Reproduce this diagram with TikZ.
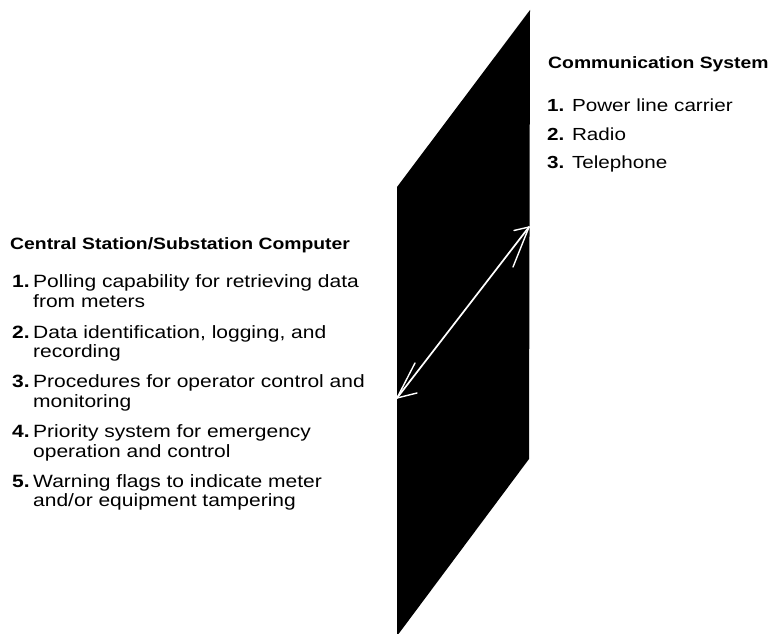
\documentclass[tikz,border=0pt]{standalone}
\usepackage{fontspec}
\setmainfont{Liberation Sans}
\newfontfamily\reffont[FakeStretch=1.18]{Liberation Sans}
\tikzset{
  headtxt/.style={anchor=base west, inner sep=0pt, font=\reffont\bfseries\fontsize{16.4}{19.5}\selectfont},
  numtxt/.style={anchor=base west, inner sep=0pt, font=\reffont\bfseries\fontsize{17.8}{19.5}\selectfont},
  itemtxt/.style={anchor=base west, inner sep=0pt, font=\reffont\fontsize{17.8}{19.5}\selectfont},
  ritemtxt/.style={anchor=base west, inner sep=0pt, font=\reffont\fontsize{17.5}{19.5}\selectfont},
  shaft/.style={white, line width=1.7pt, line cap=round},
  barb/.style={white, line width=1.4pt, line cap=round}
}
\begin{document}
\begin{tikzpicture}[x=1pt,y=-1pt]
\useasboundingbox (0,0) rectangle (769,634);
% panel
\coordinate (p1) at (397,187);
\coordinate (p2) at (530,10);
\coordinate (p3) at (529,459);
\coordinate (p4) at (397,636);
\fill[black] (p1) -- (p2) -- (p3) -- (p4) -- cycle;
% double arrow
\coordinate (L) at (397,398);
\coordinate (R) at (529,227);
\draw[shaft] (L) -- (R);
\draw[barb] (R) -- ++(-15,3.5);
\draw[barb] (R) -- ++(-16,40);
\draw[barb] (L) -- ++(20,-5);
\draw[barb] (L) -- ++(18,-35);
% right text
\node[headtxt] (comhead) at (548,69) {Communication System};
\node[ritemtxt] (c1) at (547,112) {\textbf{1.} Power line carrier};
\node[ritemtxt] (c2) at (547,140) {\textbf{2.} Radio};
\node[ritemtxt] (c3) at (547,168) {\textbf{3.} Telephone};
% left text
\node[headtxt] (cshead) at (10,249) {Central Station/Substation Computer};
\node[numtxt] (n1) at (12,287) {1.};
\node[itemtxt] (t1a) at (33,287) {Polling capability for retrieving data};
\node[itemtxt] (t1b) at (33,307) {from meters};
\node[numtxt] (n2) at (12,338) {2.};
\node[itemtxt] (t2a) at (33,338) {Data identification, logging, and};
\node[itemtxt] (t2b) at (33,357) {recording};
\node[numtxt] (n3) at (12,387) {3.};
\node[itemtxt] (t3a) at (33,387) {Procedures for operator control and};
\node[itemtxt] (t3b) at (33,407) {monitoring};
\node[numtxt] (n4) at (12,437) {4.};
\node[itemtxt] (t4a) at (33,437) {Priority system for emergency};
\node[itemtxt] (t4b) at (33,457) {operation and control};
\node[numtxt] (n5) at (12,487) {5.};
\node[itemtxt] (t5a) at (33,487) {Warning flags to indicate meter};
\node[itemtxt] (t5b) at (33,506) {and/or equipment tampering};
\end{tikzpicture}
\end{document}
